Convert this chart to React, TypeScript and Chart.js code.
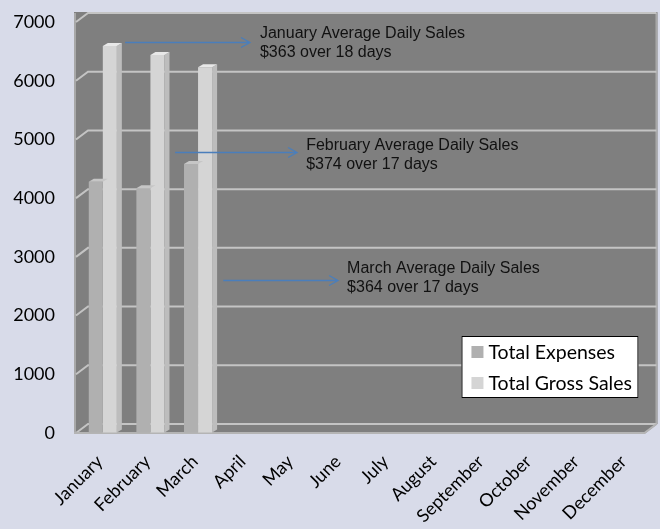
import React, { useEffect, useRef } from "react";
import { Chart, registerables } from "chart.js";

Chart.register(...registerables);

const months = ["January", "February", "March", "April", "May", "June", "July", "August", "September", "October", "November", "December"];
const totalExpenses: (number | null)[] = [4280, 4170, 4580, null, null, null, null, null, null, null, null, null];
const totalGrossSales: (number | null)[] = [6590, 6440, 6230, null, null, null, null, null, null, null, null, null];
const seriesLabels = ["Total Expenses", "Total Gross Sales"];
const seriesColors = ["#b0b0b0", "#d5d5d5"];
const yMin = 0;
const yMax = 7000;
const yStep = 1000;

const noteTitles = ["January Average Daily Sales", "February Average Daily Sales", "March Average Daily Sales"];
const noteDetails = ["$363 over 18 days", "$374 over 17 days", "$364 over 17 days"];
const noteArrowY = [6660, 4786, 2606];
const noteArrowFrom = [0.47, 1.52, 2.53];
const noteArrowTo = [3.09, 4.08, 4.94];
const noteTextX = [3.3, 4.27, 5.13];
const noteTextY = [6796, 4888, 2793];

const BG = "#d8dbe9";
const WALL = "#7f7f7f";
const GRID = "#c4c4c4";
const DEPTH_X = 12;
const DEPTH_Y = 9;

const wallsPlugin = {
  id: "walls3d",
  beforeDatasetsDraw(chart: any) {
    const { ctx, chartArea: ca, scales } = chart;
    const y = scales.y;
    const fl = ca.left - 3;
    const fr = ca.right - 6;
    const bl = fl + DEPTH_X;
    const br = fr + DEPTH_X;
    ctx.save();
    ctx.fillStyle = WALL;
    ctx.beginPath();
    ctx.moveTo(fl - 2, y.getPixelForValue(yMax) - DEPTH_Y - 1);
    ctx.lineTo(br + 1, y.getPixelForValue(yMax) - DEPTH_Y - 1);
    ctx.lineTo(br + 1, y.getPixelForValue(yMin) - DEPTH_Y);
    ctx.lineTo(fr, y.getPixelForValue(yMin) + 1);
    ctx.lineTo(fl - 2, y.getPixelForValue(yMin) + 1);
    ctx.closePath();
    ctx.fill();
    ctx.strokeStyle = "#a8a8a8";
    ctx.lineWidth = 2;
    ctx.beginPath();
    ctx.moveTo(fl - 1, y.getPixelForValue(yMax) - DEPTH_Y);
    ctx.lineTo(fl - 1, y.getPixelForValue(yMin));
    ctx.stroke();
    ctx.beginPath();
    ctx.moveTo(br, y.getPixelForValue(yMax) - DEPTH_Y);
    ctx.lineTo(br, y.getPixelForValue(yMin) - DEPTH_Y);
    ctx.stroke();
    ctx.strokeStyle = GRID;
    ctx.lineWidth = 2;
    for (let v = yMin; v <= yMax; v += yStep) {
      const py = y.getPixelForValue(v);
      ctx.beginPath();
      ctx.moveTo(fl, py);
      ctx.lineTo(bl, py - DEPTH_Y);
      ctx.lineTo(br, py - DEPTH_Y);
      ctx.stroke();
    }
    const p0 = y.getPixelForValue(yMin);
    ctx.strokeStyle = "#b4b4b4";
    ctx.beginPath();
    ctx.moveTo(fl - 2, p0);
    ctx.lineTo(fr, p0);
    ctx.lineTo(br, p0 - DEPTH_Y);
    ctx.stroke();
    ctx.restore();
  },
  afterDatasetsDraw(chart: any) {
    const { ctx } = chart;
    const dx = 5;
    const dy = 3;
    ctx.save();
    const caps = ["#c6c6c6", "#e8e8e8"];
    const sides = ["#a0a0a0", "#bdbdbd"];
    chart.data.datasets.forEach((ds: any, di: number) => {
      const meta = chart.getDatasetMeta(di);
      meta.data.forEach((bar: any, i: number) => {
        if (ds.data[i] == null) return;
        const { x, y, base, width } = bar.getProps(["x", "y", "base", "width"], true);
        const l = x - width / 2;
        const r = x + width / 2;
        if (di === seriesLabels.length - 1) {
          ctx.fillStyle = sides[di];
          ctx.beginPath();
          ctx.moveTo(r, y);
          ctx.lineTo(r + dx, y - dy);
          ctx.lineTo(r + dx, base - dy);
          ctx.lineTo(r, base);
          ctx.closePath();
          ctx.fill();
        }
        ctx.fillStyle = caps[di];
        ctx.beginPath();
        ctx.moveTo(l, y);
        ctx.lineTo(l + dx, y - dy);
        ctx.lineTo(r + dx, y - dy);
        ctx.lineTo(r, y);
        ctx.closePath();
        ctx.fill();
      });
    });
    ctx.restore();
  },
};

const notesPlugin = {
  id: "notes",
  afterDraw(chart: any) {
    const { ctx, scales } = chart;
    const xs = scales.x;
    const ys = scales.y;
    ctx.save();
    for (let i = 0; i < noteTitles.length; i++) {
      const ay = Math.round(ys.getPixelForValue(noteArrowY[i])) + 0.5;
      const x1 = xs.getPixelForValue(noteArrowFrom[i]);
      const x2 = xs.getPixelForValue(noteArrowTo[i]);
      ctx.strokeStyle = "#4a7ebb";
      ctx.lineWidth = 1.3;
      ctx.beginPath();
      ctx.moveTo(x1, ay);
      ctx.lineTo(x2, ay);
      ctx.moveTo(x2 - 9, ay - 5);
      ctx.lineTo(x2, ay);
      ctx.lineTo(x2 - 9, ay + 5);
      ctx.stroke();
      const tx = xs.getPixelForValue(noteTextX[i]);
      const ty = ys.getPixelForValue(noteTextY[i]);
      ctx.fillStyle = "#111111";
      ctx.font = "16px 'Liberation Sans', Arial, sans-serif";
      ctx.textAlign = "left";
      ctx.textBaseline = "middle";
      ctx.fillText(noteTitles[i], tx, ty);
      ctx.fillText(noteDetails[i], tx, ty + 19);
    }
    const ca = chart.chartArea;
    const lx = ca.right - 189;
    const lyTop = ca.bottom - 97;
    ctx.fillStyle = "#ffffff";
    ctx.fillRect(lx, lyTop, 177, 62);
    ctx.strokeStyle = "#000000";
    ctx.lineWidth = 1;
    ctx.strokeRect(lx + 0.5, lyTop + 0.5, 176, 61);
    ctx.font = "19.5px Lato, 'Open Sans', sans-serif";
    ctx.textBaseline = "middle";
    seriesLabels.forEach((lab, i) => {
      const cy = lyTop + 16 + i * 31;
      ctx.fillStyle = seriesColors[i];
      ctx.fillRect(lx + 10, cy - 6, 12, 12);
      ctx.fillStyle = "#000000";
      ctx.fillText(lab, lx + 27, cy + 1);
    });
    ctx.restore();
  },
};

export default function App() {
  const ref = useRef<HTMLCanvasElement | null>(null);
  useEffect(() => {
    if (!ref.current) return;
    const chart = new Chart(ref.current, {
      type: "bar",
      data: {
        labels: months,
        datasets: [
          { label: seriesLabels[0], data: totalExpenses, backgroundColor: seriesColors[0], borderWidth: 0 },
          { label: seriesLabels[1], data: totalGrossSales, backgroundColor: seriesColors[1], borderWidth: 0 },
        ],
      },
      options: {
        responsive: false,
        animation: false,
        devicePixelRatio: 1,
        layout: { padding: { left: 0, top: 22, right: 2, bottom: 0 } },
        datasets: { bar: { categoryPercentage: 0.59, barPercentage: 1 } },
        plugins: { legend: { display: false }, tooltip: { enabled: false } },
        scales: {
          x: {
            grid: { display: false, drawTicks: false },
            border: { display: false },
            ticks: {
              minRotation: 45,
              maxRotation: 45,
              autoSkip: false,
              padding: 18,
              labelOffset: -3,
              color: "#000000",
              font: { family: "Lato, 'Open Sans', sans-serif", size: 18 },
            },
            afterFit: (s: any) => {
              s.height = 96;
            },
          },
          y: {
            min: yMin,
            max: yMax,
            grid: { display: true, drawOnChartArea: false, drawTicks: true, tickLength: 24, color: "rgba(0,0,0,0)" },
            border: { display: false },
            ticks: {
              stepSize: yStep,
              padding: 0,
              color: "#000000",
              font: { family: "Lato, 'Open Sans', sans-serif", size: 18 },
              callback: (v: any) => String(v),
            },
            afterFit: (s: any) => {
              s.width = 79;
            },
          },
        },
      },
      plugins: [wallsPlugin, notesPlugin],
    });
    return () => chart.destroy();
  }, []);
  return (
    <div style={{ position: "fixed", left: 0, top: 0, width: 660, height: 529, background: BG }}>
      <canvas ref={ref} width={660} height={529} style={{ display: "block" }} />
    </div>
  );
}
